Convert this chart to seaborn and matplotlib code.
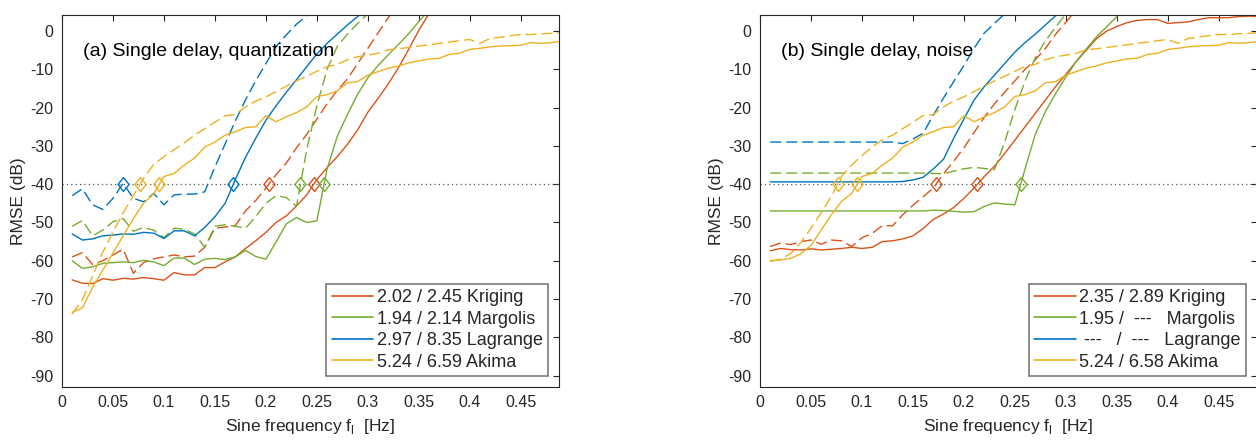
"""
RMSE vs. sine frequency, single delay - quantization vs. noise
Run:  python plot.py   ->  out.png
"""

import matplotlib
matplotlib.use("Agg")
import numpy as np
import pandas as pd
import matplotlib.pyplot as plt
from matplotlib.lines import Line2D
import seaborn as sns

# ── 1.  DATA ──────────────────────────────────────────────────────────────
FREQ = [0.01, 0.02, 0.03, 0.04, 0.05, 0.06, 0.07, 0.08, 0.09, 0.10,
        0.11, 0.12, 0.13, 0.14, 0.15, 0.16, 0.17, 0.18, 0.19, 0.20,
        0.21, 0.22, 0.23, 0.24, 0.25, 0.26, 0.27, 0.28, 0.29, 0.30,
        0.31, 0.32, 0.33, 0.34, 0.35, 0.36, 0.37, 0.38, 0.39, 0.40,
        0.41, 0.42, 0.43, 0.44, 0.45, 0.46, 0.47, 0.48, 0.49]

METHODS = ["Kriging", "Margolis", "Lagrange", "Akima"]
THRESHOLD_DB = -40

# (a) quantization -- solid / dashed per method (series stop once off the top)
KRIG_A_SOLID = [-65.0, -65.9, -66.0, -64.7, -65.1, -64.6, -64.8, -64.4, -64.7, -65.1,
                -63.1, -63.7, -63.7, -61.8, -61.8, -60.3, -59.0, -56.8, -54.8, -52.6,
                -50.0, -48.3, -45.7, -42.8, -38.8, -35.7, -32.8, -29.6, -25.8, -21.2,
                -17.6, -13.8, -9.6, -4.8, 0.2, 4.6, 9.0]
KRIG_A_DASH = [-59.0, -57.9, -61.0, -60.0, -58.5, -57.0, -63.3, -60.5, -59.5, -59.0,
               -58.5, -59.0, -58.8, -56.5, -51.5, -51.2, -50.8, -47.0, -44.3, -41.0,
               -37.5, -34.5, -30.5, -27.0, -23.0, -19.0, -15.5, -12.5, -8.5, -4.5,
               -0.5, 3.5, 7.5]
MARG_A_SOLID = [-60.0, -62.0, -61.6, -60.7, -60.5, -60.3, -60.5, -59.9, -60.3, -61.3,
                -59.3, -59.3, -61.0, -59.6, -59.4, -59.7, -59.0, -57.3, -58.9, -59.6,
                -55.1, -50.4, -48.7, -50.0, -49.6, -36.0, -27.5, -21.8, -16.5, -12.2,
                -9.0, -6.2, -3.5, -0.7, 2.5, 5.5]
MARG_A_DASH = [-51.0, -49.5, -53.5, -52.0, -49.8, -49.0, -52.3, -51.3, -52.0, -54.0,
               -51.5, -51.8, -53.0, -56.5, -51.0, -50.6, -51.0, -51.5, -48.5, -45.0,
               -43.0, -43.5, -45.8, -31.0, -19.5, -10.0, -4.0, -0.8, 2.0, 4.5, 7.0]
LAGR_A_SOLID = [-53.0, -54.6, -54.3, -53.5, -53.3, -53.0, -53.1, -52.6, -52.8, -54.2,
                -52.2, -52.2, -53.5, -51.3, -48.5, -45.0, -38.8, -33.0, -28.0, -23.3,
                -19.5, -16.0, -12.7, -9.3, -6.0, -3.2, -0.8, 1.6, 3.8, 6.0]
LAGR_A_DASH = [-43.0, -41.2, -45.4, -46.6, -43.7, -39.8, -43.7, -44.6, -42.4, -45.4,
               -42.8, -42.6, -42.6, -42.0, -35.5, -29.5, -23.5, -18.0, -13.0, -8.5,
               -4.0, -1.0, 1.8, 4.0, 6.5]
AKIM_A_SOLID = [-73.5, -72.3, -67.0, -62.5, -58.0, -53.5, -49.0, -45.0, -42.5, -38.0,
                -37.2, -35.0, -33.2, -30.3, -29.0, -27.2, -26.3, -25.2, -25.0, -22.1,
                -23.7, -22.4, -21.3, -19.8, -17.1, -16.6, -15.6, -13.5, -13.2, -11.5,
                -10.6, -9.7, -9.1, -8.3, -7.8, -7.3, -7.1, -6.1, -5.8, -4.8,
                -4.5, -4.1, -3.9, -3.8, -3.7, -3.0, -3.2, -3.0, -2.7]
AKIM_A_DASH = [-73.9, -70.2, -64.0, -57.8, -52.5, -47.5, -43.0, -38.5, -34.8, -32.8,
               -31.0, -29.2, -27.2, -25.5, -23.8, -22.1, -21.8, -19.8, -18.3, -17.2,
               -15.8, -14.4, -13.0, -11.8, -10.5, -9.3, -8.7, -7.5, -6.7, -6.3,
               -5.8, -4.9, -4.6, -4.3, -3.9, -3.6, -3.2, -2.9, -2.5, -2.2,
               -3.2, -1.9, -1.6, -1.2, -0.9, -0.9, -0.7, -0.6, -0.4]

# (b) noise
KRIG_B_SOLID = [-57.4, -56.8, -57.1, -57.2, -56.9, -57.2, -57.0, -56.8, -56.5, -56.8,
                -56.5, -55.0, -54.8, -54.3, -53.5, -51.6, -49.2, -47.8, -46.1, -43.7,
                -41.0, -38.0, -35.3, -32.0, -28.5, -25.0, -21.5, -18.0, -14.5, -11.3,
                -8.0, -5.0, -2.0, 0.0, 1.2, 2.2, 2.8, 3.0, 3.0, 2.0,
                2.2, 2.4, 3.0, 3.5, 3.5, 3.5, 3.8, 3.9, 3.8]
KRIG_B_DASH = [-56.3, -55.4, -55.8, -55.0, -54.6, -55.7, -54.6, -54.8, -56.3, -54.0,
               -52.9, -50.8, -50.9, -48.0, -45.5, -43.3, -41.0, -37.3, -34.0, -30.5,
               -26.5, -22.5, -19.0, -16.0, -13.0, -10.0, -7.5, -4.5, -0.8, 2.3, 5.5]
MARG_B_SOLID = [-47.0, -47.0, -47.0, -47.0, -47.0, -47.0, -47.0, -47.0, -47.0, -47.0,
                -47.0, -47.0, -47.0, -47.0, -47.0, -47.0, -46.8, -46.9, -47.1, -47.3,
                -47.2, -45.8, -44.9, -45.2, -45.4, -36.0, -27.0, -21.0, -16.3, -12.0,
                -8.0, -4.7, -1.5, 1.1, 3.8, 6.5]
MARG_B_DASH = [-37.1, -37.1, -37.1, -37.1, -37.1, -37.1, -37.1, -37.1, -37.1, -37.1,
               -37.1, -37.1, -37.1, -37.1, -37.1, -37.1, -37.2, -37.3, -36.6, -36.0,
               -35.6, -35.9, -36.2, -29.0, -20.5, -13.0, -7.0, -2.5, 1.0, 4.5]
LAGR_B_SOLID = [-39.4, -39.4, -39.4, -39.4, -39.4, -39.4, -39.4, -39.4, -39.4, -39.4,
                -39.4, -39.4, -39.4, -39.3, -38.9, -38.2, -36.0, -33.5, -28.0, -23.0,
                -18.0, -14.5, -11.5, -8.5, -5.5, -3.0, -0.8, 1.6, 4.0, 6.2]
LAGR_B_DASH = [-29.0, -29.0, -29.0, -29.0, -29.0, -29.0, -29.0, -29.0, -29.0, -29.0,
               -29.0, -29.0, -29.0, -29.4, -28.2, -26.7, -22.0, -17.5, -13.2, -9.0,
               -4.5, -0.5, 2.0, 4.5, 7.0]
AKIM_B_SOLID = [-60.0, -59.8, -59.4, -58.2, -56.0, -52.0, -48.0, -44.5, -42.4, -38.0,
                -37.2, -35.0, -33.2, -30.3, -29.0, -27.2, -26.3, -25.2, -25.0, -22.1,
                -23.7, -22.4, -21.3, -19.8, -17.1, -16.6, -15.6, -13.5, -13.2, -11.5,
                -10.6, -9.7, -9.1, -8.3, -7.8, -7.3, -7.1, -6.1, -5.8, -4.8,
                -4.5, -4.1, -3.9, -3.8, -3.7, -3.0, -3.2, -3.0, -2.7]
AKIM_B_DASH = [-60.2, -59.6, -58.2, -55.3, -51.5, -47.5, -43.2, -38.0, -35.0, -32.5,
               -30.3, -28.4, -27.2, -25.5, -23.8, -22.1, -21.8, -19.8, -18.3, -17.2,
               -15.8, -14.4, -13.0, -11.8, -10.5, -9.3, -8.7, -7.5, -6.7, -6.3,
               -5.8, -4.9, -4.6, -4.3, -3.9, -3.6, -3.2, -2.9, -2.5, -2.2,
               -3.2, -1.9, -1.6, -1.2, -0.9, -0.9, -0.7, -0.6, -0.4]

LEGEND_A = ["2.02 / 2.45 Kriging", "1.94 / 2.14 Margolis",
            "2.97 / 8.35 Lagrange", "5.24 / 6.59 Akima"]
LEGEND_B = ["2.35 / 2.89 Kriging", "1.95 /  ---   Margolis",
            " ---   /  ---   Lagrange", "5.24 / 6.58 Akima"]
TITLE_A = "(a) Single delay, quantization"
TITLE_B = "(b) Single delay, noise"

XTICKS = [0, 0.05, 0.1, 0.15, 0.2, 0.25, 0.3, 0.35, 0.4, 0.45]
XTICK_LABELS = ["0", "0.05", "0.1", "0.15", "0.2", "0.25", "0.3", "0.35", "0.4", "0.45"]
YTICKS = [0, -10, -20, -30, -40, -50, -60, -70, -80, -90]

# ── 2.  STYLE ─────────────────────────────────────────────────────────────
sns.set_style("white")
plt.rcParams["font.family"] = ["Liberation Sans", "DejaVu Sans"]
plt.rcParams["mathtext.fontset"] = "custom"
plt.rcParams["mathtext.rm"] = "Liberation Sans"
plt.rcParams["axes.unicode_minus"] = False

PALETTE = {"Kriging": "#D95319", "Margolis": "#77AC30",
           "Lagrange": "#0072BD", "Akima": "#EDB120"}
INK = "#262626"


def to_long(series):
    rows = []
    for method, kind, vals in series:
        for f, v in zip(FREQ, vals):
            rows.append((method, kind, f, v))
    return pd.DataFrame(rows, columns=["method", "kind", "freq", "rmse"])


def first_crossing(vals):
    """frequency where a curve that starts below the threshold first reaches it"""
    if vals[0] >= THRESHOLD_DB:
        return None
    for i in range(1, len(vals)):
        if vals[i] >= THRESHOLD_DB:
            v0, v1 = vals[i - 1], vals[i]
            t = (THRESHOLD_DB - v0) / (v1 - v0)
            return FREQ[i - 1] + t * (FREQ[i] - FREQ[i - 1])
    return None


DIAMOND = [(0, 1), (0.8, 0), (0, -1), (-0.8, 0), (0, 1)]


def panel(ax, series, legend_labels, title):
    df = to_long(series)
    ax.axhline(THRESHOLD_DB, color="#555555", ls=(0, (1, 2.5)), lw=0.9, zorder=1)
    sns.lineplot(data=df, x="freq", y="rmse", hue="method", style="kind",
                 hue_order=METHODS, style_order=["solid", "dashed"],
                 palette=PALETTE, dashes={"solid": "", "dashed": (8, 3.5)},
                 estimator=None, lw=1.0, legend=False, ax=ax, zorder=2)
    for method, kind, vals in series:
        fc = first_crossing(vals)
        if fc is not None:
            ax.plot([fc], [THRESHOLD_DB], marker=DIAMOND, ms=10, mfc="none",
                    mec=PALETTE[method], mew=1.0, ls="none", zorder=3)

    ax.set_xlim(0, 0.4875)
    ax.set_ylim(-93, 4.2)
    ax.set_xticks(XTICKS)
    ax.set_xticklabels(XTICK_LABELS)
    ax.set_yticks(YTICKS)
    ax.set_yticklabels([str(t) for t in YTICKS])
    ax.tick_params(direction="in", top=True, right=True, length=4.5, width=0.8,
                   labelsize=11.5, colors=INK, pad=6)
    for sp in ax.spines.values():
        sp.set_color(INK)
        sp.set_linewidth(0.8)
    ax.set_xlabel(r"Sine frequency f$_\mathregular{l}$  [Hz]", fontsize=12.5,
                  color=INK, labelpad=5)
    ax.set_ylabel("RMSE (dB)", fontsize=12.5, color=INK, labelpad=3)
    ax.text(0.042, 0.903, title, transform=ax.transAxes, fontsize=14,
            va="center", ha="left", color="black")

    handles = [Line2D([0], [0], color=PALETTE[m], lw=1.2) for m in METHODS]
    leg = ax.legend(handles, legend_labels, loc="lower right", fontsize=13,
                    handlelength=2.3, handletextpad=0.2, labelspacing=0.25,
                    borderpad=0.3, borderaxespad=0.6, fancybox=False,
                    framealpha=1, edgecolor="#7a7a7a")
    leg.get_frame().set_linewidth(1.2)


# ── 3.  FIGURE ────────────────────────────────────────────────────────────
fig = plt.figure(figsize=(12.56, 4.4), dpi=100)
ax_a = fig.add_axes([62 / 1256, 53 / 440, 497 / 1256, 372 / 440])
ax_b = fig.add_axes([760 / 1256, 53 / 440, 497 / 1256, 372 / 440])

panel(ax_a, [("Kriging", "solid", KRIG_A_SOLID), ("Kriging", "dashed", KRIG_A_DASH),
             ("Margolis", "solid", MARG_A_SOLID), ("Margolis", "dashed", MARG_A_DASH),
             ("Lagrange", "solid", LAGR_A_SOLID), ("Lagrange", "dashed", LAGR_A_DASH),
             ("Akima", "solid", AKIM_A_SOLID), ("Akima", "dashed", AKIM_A_DASH)],
      LEGEND_A, TITLE_A)
panel(ax_b, [("Kriging", "solid", KRIG_B_SOLID), ("Kriging", "dashed", KRIG_B_DASH),
             ("Margolis", "solid", MARG_B_SOLID), ("Margolis", "dashed", MARG_B_DASH),
             ("Lagrange", "solid", LAGR_B_SOLID), ("Lagrange", "dashed", LAGR_B_DASH),
             ("Akima", "solid", AKIM_B_SOLID), ("Akima", "dashed", AKIM_B_DASH)],
      LEGEND_B, TITLE_B)

fig.savefig("out.png", dpi=100)
